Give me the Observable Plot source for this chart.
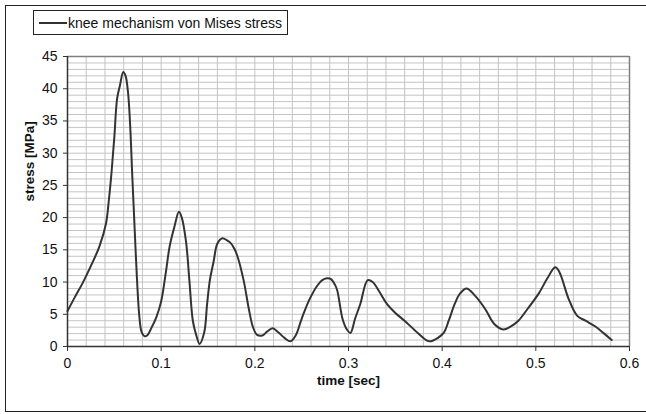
<!DOCTYPE html>
<html>
<head>
<meta charset="utf-8">
<script src="https://cdn.jsdelivr.net/npm/d3@7"></script>
<script src="https://cdn.jsdelivr.net/npm/@observablehq/plot@0.6"></script>
<style>
  html, body { margin: 0; padding: 0; background: #fff; }
  #wrap { position: relative; width: 646px; height: 414px; overflow: hidden; font-family: "Liberation Sans", Arial, sans-serif; }
  #frame { position: absolute; left: 5px; top: 5px; width: 645px; height: 407px; border: 1px solid #222; box-sizing: border-box; border-right: none; pointer-events: none; }
  #legend { position: absolute; left: 33px; top: 10px; width: 255px; height: 25px; border: 1px solid #222; box-sizing: border-box; background: #fff; font-size: 14px; color: #111; display: flex; align-items: center; white-space: nowrap; }
  #legend .swatch { display: inline-block; width: 28px; height: 0; border-top: 2px solid #333; margin-left: 5px; margin-right: 1px; }
  #chart { position: absolute; left: 0; top: 0; }
</style>
</head>
<body>
<div id="wrap">
  <div id="chart"></div>
  <div id="frame"></div>
  <div id="legend"><span class="swatch"></span><span id="legendText"></span></div>
</div>
<script>
const seriesName = "knee mechanism von Mises stress";
const xTitle = "time [sec]";
const yTitle = "stress [MPa]";
const xTicks = [0, 0.1, 0.2, 0.3, 0.4, 0.5, 0.6];
const yTicks = [0, 5, 10, 15, 20, 25, 30, 35, 40, 45];

const time = [0, 0.008, 0.016, 0.025, 0.034, 0.041, 0.044, 0.047, 0.050, 0.053, 0.056, 0.0595, 0.062, 0.0647, 0.067, 0.069, 0.071, 0.074, 0.0765, 0.079, 0.082, 0.085,
  0.090, 0.095, 0.100, 0.105, 0.109, 0.114, 0.119, 0.122, 0.1266, 0.130, 0.1338, 0.137, 0.141, 0.146, 0.149, 0.152, 0.156, 0.1595, 0.163, 0.1656,
  0.170, 0.1745, 0.178, 0.181, 0.188, 0.1935, 0.198, 0.2024, 0.208, 0.213, 0.219, 0.225, 0.232, 0.238, 0.2436, 0.250, 0.258, 0.267, 0.272, 0.277,
  0.281, 0.2855, 0.288, 0.2936, 0.298, 0.302, 0.307, 0.3126, 0.3205, 0.3258, 0.333, 0.341, 0.350, 0.3598, 0.371, 0.383, 0.3866, 0.3955, 0.402,
  0.407, 0.4134, 0.419, 0.426, 0.435, 0.4456, 0.4556, 0.4653, 0.473, 0.4814, 0.492, 0.503, 0.512, 0.5207, 0.525, 0.535, 0.544, 0.553, 0.5636, 0.573, 0.581];
const stress = [5.5, 7.7, 9.8, 12.5, 15.5, 19.0, 22.5, 27.0, 32.5, 38.5, 40.5, 42.6, 42.0, 39.3, 34.0, 27.0, 20.5, 11.0, 5.0, 2.3, 1.6, 1.7,
  3.0, 4.6, 7.0, 11.5, 15.5, 18.5, 20.9, 20.0, 16.2, 10.5, 4.0, 2.0, 0.4, 2.2, 6.5, 10.3, 13.2, 15.8, 16.6, 16.8,
  16.5, 16.0, 15.2, 14.2, 10.3, 5.9, 3.0, 1.8, 1.7, 2.3, 2.85, 2.2, 1.3, 0.8, 1.7, 4.3, 7.2, 9.5, 10.3, 10.6,
  10.5, 9.6, 8.7, 4.3, 2.7, 2.1, 4.3, 6.6, 10.3, 10.0, 8.5, 6.6, 5.2, 4.0, 2.5, 1.0, 0.8, 1.35, 2.2,
  4.0, 6.6, 8.2, 9.0, 7.9, 5.9, 3.5, 2.65, 3.1, 4.0, 6.0, 8.2, 10.5, 12.3, 11.6, 7.4, 4.8, 4.0, 3.1, 2.0, 1.0];

const data = time.map((t, i) => ({t, s: stress[i]}));
document.getElementById("legendText").textContent = seriesName;

const gridX = d3.range(0, 31).map(i => i * 0.02);
const gridY = d3.range(0, 46);

const chart = Plot.plot({
  width: 646,
  height: 414,
  marginLeft: 67,
  marginRight: 17,
  marginTop: 56,
  marginBottom: 68,
  style: { fontFamily: "'Liberation Sans', Arial, sans-serif", fontSize: "14px", color: "#111", background: "transparent" },
  x: { domain: [0, 0.6] },
  y: { domain: [0, 45] },
  marks: [
    Plot.ruleX(gridX, { stroke: "#c4c4c4", strokeWidth: 1 }),
    Plot.ruleY(gridY, { stroke: "#c4c4c4", strokeWidth: 1 }),
    Plot.ruleX([0.6], { stroke: "#808080", strokeWidth: 1.5 }),
    Plot.ruleY([45], { stroke: "#808080", strokeWidth: 1.5 }),
    Plot.axisX({ ticks: xTicks, tickSize: 5, tickPadding: 7, label: null, stroke: "#333", fontSize: 14, tickFormat: d => String(+d.toFixed(1)) }),
    Plot.axisY({ ticks: yTicks, tickSize: 4, tickPadding: 6, label: null, stroke: "#333", fontSize: 14 }),
    Plot.ruleX([0], { stroke: "#333", strokeWidth: 1.5 }),
    Plot.ruleY([0], { stroke: "#333", strokeWidth: 1.5 }),
    Plot.line(data, { x: "t", y: "s", stroke: "#333", strokeWidth: 2, curve: "catmull-rom" }),
    Plot.text([xTitle], { frameAnchor: "bottom", dy: 38, fontWeight: "bold", fontSize: 13.5, fill: "#111" }),
    Plot.text([yTitle], { frameAnchor: "left", dx: -38, rotate: -90, fontWeight: "bold", fontSize: 13.5, fill: "#111" })
  ]
});
document.getElementById("chart").appendChild(chart);
</script>
</body>
</html>
